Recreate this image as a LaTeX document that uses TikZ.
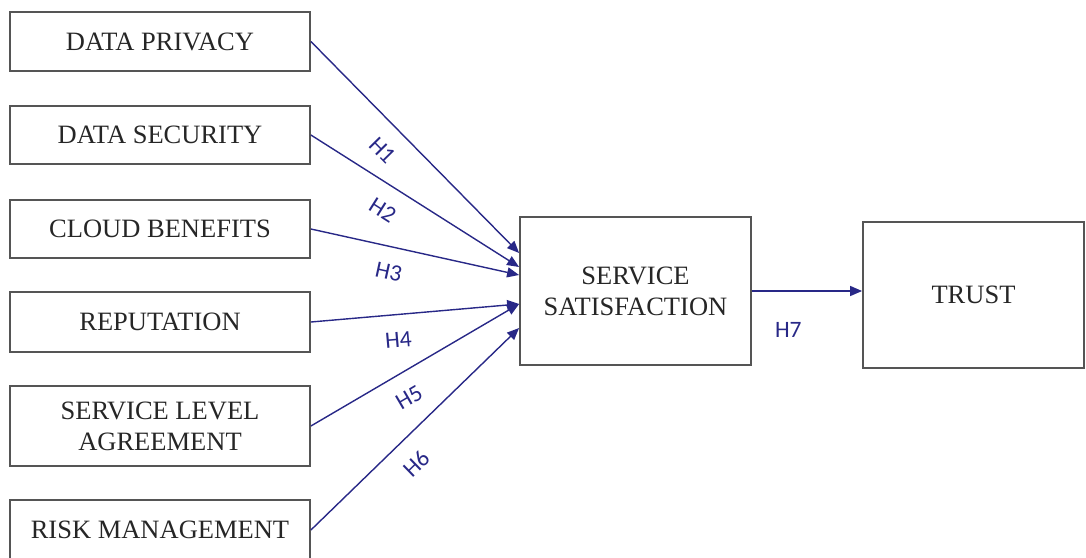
\documentclass[tikz,border=0pt]{standalone}
\usepackage{fontspec}
\setmainfont{Liberation Serif}
\newfontfamily\hfont{Carlito}
\usepackage{xcolor}
\usetikzlibrary{arrows.meta}
\definecolor{hblue}{RGB}{40,40,135}
\definecolor{boxgray}{RGB}{85,85,85}

\begin{document}
\begin{tikzpicture}[x=1pt,y=-1pt,
    box/.style={draw=boxgray,line width=1.8pt,minimum width=300pt,align=center,inner sep=0pt,
        text=black!85,font=\fontsize{26.5}{31}\selectfont},
    hyp/.style={draw=hblue,line width=1.4pt,-{Triangle[length=12pt,width=10pt]}},
    hlab/.style={text=hblue,font=\hfont\fontsize{23.5}{25}\selectfont,inner sep=0pt,sloped,below=17pt}]
    \clip (0,0) rectangle (1086,557);

    % Factors
    \node[box,minimum height=59pt] (privacy) at (160,41.5) {DATA PRIVACY};
    \node[box,minimum height=58pt] (security) at (160,135) {DATA SECURITY};
    \node[box,minimum height=58pt] (benefits) at (160,229) {CLOUD BENEFITS};
    \node[box,minimum height=60pt] (reputation) at (160,322) {REPUTATION};
    \node[box,minimum height=80pt] (sla) at (160,426) {SERVICE LEVEL\\AGREEMENT};
    \node[box,minimum height=60pt] (risk) at (160,530) {RISK MANAGEMENT};

    % Mediator and outcome
    \node[box,minimum width=231pt,minimum height=148pt] (satisf) at (635.5,291) {SERVICE\\SATISFACTION};
    \node[box,minimum width=221pt,minimum height=146pt] (trust) at (973.5,295) {TRUST};

    % Hypotheses
    \draw[hyp] (privacy.east) -- ([yshift=38pt]satisf.west) node[hlab,pos=0.43] {H1};
    \draw[hyp] (security.east) -- ([yshift=24pt]satisf.west) node[hlab,pos=0.41] {H2};
    \draw[hyp] (benefits.east) -- ([yshift=16pt]satisf.west) node[hlab,pos=0.40] {H3};
    \draw[hyp] (reputation.east) -- ([yshift=-13pt]satisf.west) node[hlab,pos=0.41] {H4};
    \draw[hyp] (sla.east) -- ([yshift=-13pt]satisf.west) node[hlab,pos=0.41] {H5};
    \draw[hyp] (risk.east) -- ([yshift=-37pt]satisf.west) node[hlab,pos=0.42] {H6};
    \draw[hyp] (satisf.east) -- (satisf.east -| trust.west) node[hlab,pos=0.33,below=14pt] {H7};
\end{tikzpicture}
\end{document}
